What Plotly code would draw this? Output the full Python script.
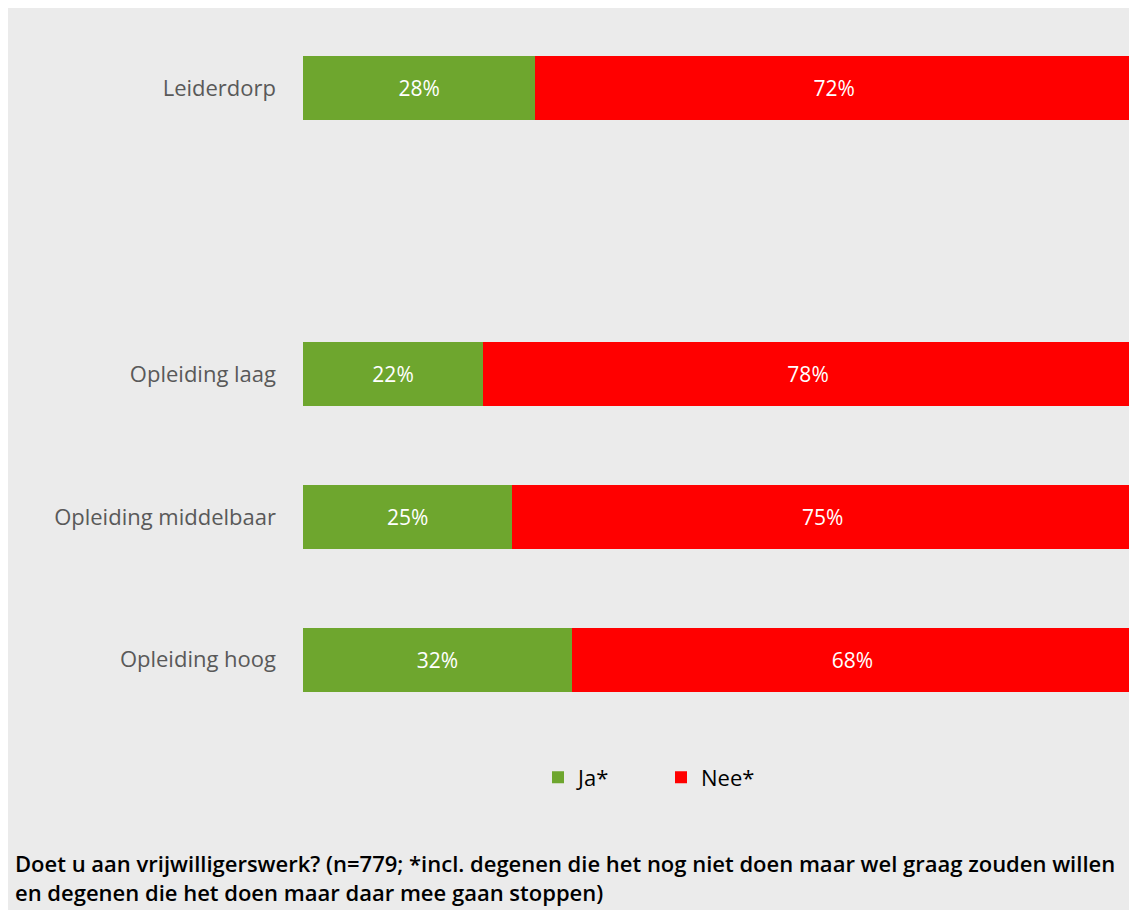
import plotly.graph_objects as go

categories = ["Leiderdorp", "", "Opleiding laag", "Opleiding middelbaar", "Opleiding hoog"]
ja = [28, None, 21.7, 25.2, 32.4]
nee = [72, None, 78.3, 74.8, 67.6]
series_names = ["Ja*", "Nee*"]
colors = ["#6ea62e", "#ff0000"]
footnote_lines = [
    "Doet u aan vrijwilligerswerk? (n=779; *incl. degenen die het nog niet doen maar wel graag zouden willen",
    "en degenen die het doen maar daar mee gaan stoppen)",
]

ypos = list(range(len(categories)))

def lab(v):
    return [("" if x is None else f"{round(x)}%") for x in v]

FONT = "Open Sans"
fig = go.Figure()
for name, vals, col in zip(series_names, [ja, nee], colors):
    fig.add_trace(go.Bar(
        y=ypos, x=vals, name=name, orientation="h",
        marker=dict(color=col, line=dict(width=0)),
        width=0.448,
        text=lab(vals), textposition="inside", insidetextanchor="middle",
        textfont=dict(color="white", size=21, family=FONT),
        hoverinfo="skip",
    ))

OFF = 8  # page offset of the figure
W, H = 1137 - OFF, 910 - OFF
L = 303 - OFF
R = W - (1133 - OFF)
T = 16.5 - OFF
plot_h = 715
B = H - T - plot_h
plot_w = W - L - R

def px_x(p):
    return (p - OFF - L) / plot_w

def px_y(p):
    return (T + plot_h - (p - OFF)) / plot_h

fig.update_layout(
    width=W, height=H,
    margin=dict(l=L, r=R, t=T, b=B, pad=0),
    barmode="stack",
    paper_bgcolor="#ebebeb",
    plot_bgcolor="#ebebeb",
    xaxis=dict(range=[0, 100], visible=False, fixedrange=True),
    yaxis=dict(range=[4.5, -0.5], tickvals=ypos, ticktext=categories,
               showgrid=False, zeroline=False, showline=False,
               ticks="", ticklabelstandoff=26,
               tickfont=dict(family=FONT, size=22, color="#595959")),
    showlegend=True,
    legend=dict(orientation="h", x=px_x(538), xanchor="left",
                y=px_y(778), yanchor="middle",
                font=dict(family=FONT, size=22, color="black"),
                bgcolor="rgba(0,0,0,0)", entrywidth=78, traceorder="normal"),
    font=dict(family=FONT),
)

fig.add_annotation(xref="paper", yref="paper", x=px_x(13), y=px_y(878),
                   xanchor="left", yanchor="middle", align="left",
                   showarrow=False, text="<br>".join(footnote_lines),
                   font=dict(family=FONT, size=22, color="black", weight=600))

fig.write_html("out.html")
